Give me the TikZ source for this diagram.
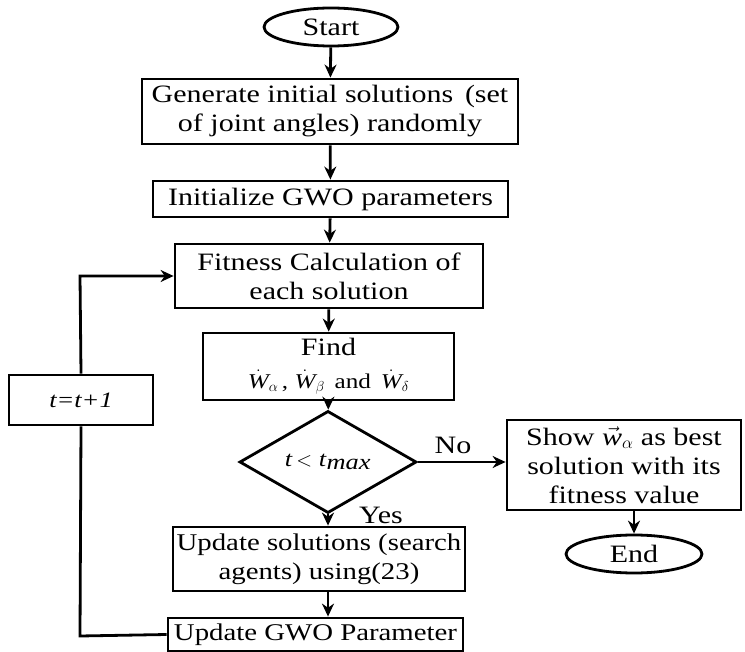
\documentclass[tikz,border=0pt]{standalone}
\usepackage{fontspec}
\setmainfont[FakeStretch=1.2]{Liberation Serif}
\usetikzlibrary{shapes.geometric,arrows.meta}
\begin{document}
\begin{tikzpicture}[x=1pt,y=-1pt,
  box/.style={draw,line width=2.8pt,rectangle,align=center,inner sep=0pt,font=\fontsize{25}{29}\selectfont},
  oval/.style={draw,line width=2.8pt,ellipse,inner sep=0pt,font=\fontsize{25}{29}\selectfont},
  dia/.style={draw,line width=2.8pt,diamond,inner sep=0pt,font=\fontsize{22}{26}\selectfont},
  arr/.style={line width=2.8pt,-{Stealth[length=13pt,width=12pt]}},
  ln/.style={line width=2.8pt},
  lab/.style={font=\fontsize{25}{29}\selectfont,inner sep=0pt}]
\useasboundingbox (0,0) rectangle (745,652);
\node[oval,minimum width=134pt,minimum height=38pt] (start) at (331,27) {Start};
\node[box,minimum width=376pt,minimum height=65pt] (gen) at (330,111.5) {Generate initial solutions\, (set\\of joint angles) randomly};
\node[box,minimum width=355pt,minimum height=36pt] (init) at (330.5,199) {Initialize GWO parameters};
\node[box,minimum width=308pt,minimum height=64pt] (fit) at (329,276) {Fitness Calculation of\\each solution};
\node[box,minimum width=251pt,minimum height=67pt] (find) at (328.5,366.5) {Find\\[4pt]{\fontsize{21}{25}\selectfont$\dot{\textit{W}}_{\alpha}$\,, $\dot{\textit{W}}_{\beta}$\, and\, $\dot{\textit{W}}_{\delta}$}};
\node[dia,minimum width=177pt,minimum height=75pt] (dec) at (328,462) {\textit{t}\,$<$ \textit{t}$_{\textit{max}}$};
\node[box,minimum width=292pt,minimum height=64pt,font=\fontsize{24}{29}\selectfont] (upd) at (319,559) {Update solutions (search\\agents) using(23)};
\node[box,minimum width=295pt,minimum height=33pt,font=\fontsize{24}{29}\selectfont] (gwo) at (315.5,634.5) {Update GWO Parameter};
\node[box,minimum width=144pt,minimum height=50pt,font=\fontsize{22}{26}\selectfont\itshape] (tbox) at (81,400) {t=t+1};
\node[box,minimum width=234pt,minimum height=90pt] (show) at (624,465) {Show $\vec{\textit{w}}_{\alpha}$ as best\\solution with its\\fitness value};
\node[oval,minimum width=136pt,minimum height=38pt] (end) at (634,554) {End};
\node[lab] (no) at (453,445) {No};
\node[lab] (yes) at (381,515) {Yes};
\coordinate (c1) at (80,636);
\coordinate (c2) at (80,276);
\draw[arr] (start) -- (gen);
\draw[arr] (gen) -- (init);
\draw[arr] (init) -- (fit);
\draw[arr] (fit) -- (find);
\draw[arr] (find) -- (dec);
\draw[arr] (dec.south) -- (dec.south |- upd.north);
\draw[arr] (dec.south |- upd.south) -- (dec.south |- gwo.north);
\draw[arr] (dec.east) -- (show.west |- dec.east);
\draw[arr] (end.north |- show.south) -- (end.north);
\draw[ln] (gwo.west) -- (c1) -- (tbox.south);
\draw[arr] (tbox.north) -- (c2) -- (fit.west);
\end{tikzpicture}
\end{document}
